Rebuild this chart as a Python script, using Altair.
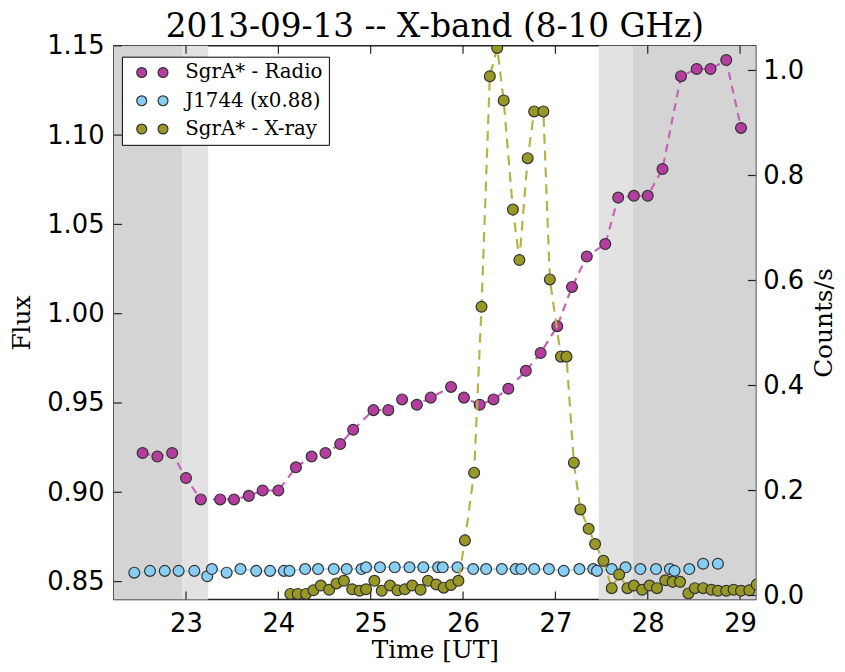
import altair as alt
import pandas as pd

# ---------------- data ----------------
radio_t = [22.53, 22.69, 22.85, 23.00, 23.16, 23.37, 23.52, 23.68, 23.83, 24.00,
           24.19, 24.36, 24.51, 24.67, 24.81, 25.03, 25.19, 25.34, 25.50, 25.65,
           25.87, 26.01, 26.18, 26.33, 26.49, 26.68, 26.84, 27.02, 27.18, 27.34,
           27.54, 27.68, 27.85, 28.00, 28.16, 28.36, 28.53, 28.68, 28.85, 29.01]
radio_flux = [0.922, 0.920, 0.922, 0.908, 0.896, 0.896, 0.896, 0.898, 0.901, 0.901,
              0.914, 0.920, 0.922, 0.927, 0.935, 0.946, 0.946, 0.952, 0.949, 0.953,
              0.959, 0.953, 0.949, 0.952, 0.958, 0.968, 0.978, 0.993, 1.015, 1.032,
              1.039, 1.065, 1.066, 1.066, 1.081, 1.133, 1.137, 1.137, 1.142, 1.104]

j1744_t = [22.44, 22.61, 22.77, 22.92, 23.09, 23.23, 23.28, 23.44, 23.59, 23.76,
           23.91, 24.06, 24.12, 24.29, 24.43, 24.60, 24.74, 24.90, 24.95, 25.10,
           25.26, 25.42, 25.57, 25.73, 25.78, 25.94, 26.11, 26.25, 26.42, 26.57,
           26.63, 26.77, 26.93, 27.09, 27.26, 27.41, 27.45, 27.61, 27.76, 27.92,
           28.09, 28.24, 28.29, 28.45, 28.60, 28.76]
j1744_flux = [0.855, 0.856, 0.856, 0.856, 0.856, 0.853, 0.857, 0.855, 0.857, 0.856,
              0.856, 0.856, 0.856, 0.857, 0.857, 0.857, 0.857, 0.857, 0.858, 0.858,
              0.858, 0.858, 0.858, 0.858, 0.858, 0.858, 0.857, 0.857, 0.857, 0.857,
              0.857, 0.857, 0.857, 0.856, 0.857, 0.857, 0.856, 0.857, 0.858, 0.857,
              0.857, 0.857, 0.856, 0.857, 0.860, 0.860]

xray_t = [24.13, 24.21, 24.30, 24.38, 24.46, 24.55, 24.63, 24.71, 24.80, 24.88,
          24.95, 25.04, 25.12, 25.21, 25.29, 25.37, 25.45, 25.54, 25.62, 25.71,
          25.79, 25.87, 25.95, 26.02, 26.12, 26.20, 26.29, 26.37, 26.44, 26.54,
          26.61, 26.70, 26.77, 26.87, 26.94, 27.06, 27.12, 27.20, 27.27, 27.36,
          27.43, 27.52, 27.61, 27.69, 27.78, 27.85, 27.94, 28.02, 28.10, 28.19,
          28.27, 28.35, 28.44, 28.51, 28.60, 28.69, 28.76, 28.85, 28.93, 29.01,
          29.10, 29.18]
xray_counts = [0.003, 0.003, 0.003, 0.010, 0.019, 0.011, 0.023, 0.028, 0.012, 0.009,
               0.012, 0.028, 0.009, 0.019, 0.010, 0.012, 0.019, 0.011, 0.028, 0.021,
               0.015, 0.020, 0.028, 0.105, 0.234, 0.550, 0.989, 1.043, 0.943, 0.735,
               0.639, 0.833, 0.922, 0.922, 0.602, 0.455, 0.455, 0.253, 0.164, 0.127,
               0.098, 0.066, 0.014, 0.040, 0.014, 0.019, 0.011, 0.019, 0.014, 0.029,
               0.026, 0.026, 0.004, 0.014, 0.014, 0.011, 0.009, 0.009, 0.011, 0.009,
               0.010, 0.021]

shade_start = [22.22, 22.96, 27.47, 27.84]
shade_end = [22.96, 23.24, 27.84, 29.17]
shade_tone = ["dark", "light", "light", "dark"]

x_ticks = [23, 24, 25, 26, 27, 28, 29]
flux_ticks = [0.85, 0.90, 0.95, 1.00, 1.05, 1.10, 1.15]
count_ticks = [0.0, 0.2, 0.4, 0.6, 0.8, 1.0]

series_names = ["SgrA* - Radio", "J1744 (x0.88)", "SgrA* - X-ray"]
series_fill = ["#b43ea0", "#88cdf2", "#989826"]

# ---------------- layout / style ----------------
W, H = 648, 559
X_DOM = [22.22, 29.17]
FLUX_DOM = [0.84, 1.15]
CNT_DOM = [-0.0075, 1.047]
TICK = 8
SERIF = "DejaVu Serif"
SANS = "DejaVu Sans"

radio_df = pd.DataFrame({"t": radio_t, "flux": radio_flux, "series": series_names[0]})
j_df = pd.DataFrame({"t": j1744_t, "flux": j1744_flux, "series": series_names[1]})
x_df = pd.DataFrame({"t": xray_t, "counts": xray_counts, "series": series_names[2]})
shade_df = pd.DataFrame({"t": shade_start, "t2": shade_end, "tone": shade_tone})
xt_df = pd.DataFrame({"t": x_ticks})
ft_df = pd.DataFrame({"flux": flux_ticks})
ct_df = pd.DataFrame({"counts": count_ticks})

x_scale = alt.Scale(domain=X_DOM, nice=False, zero=False)
flux_scale = alt.Scale(domain=FLUX_DOM, nice=False, zero=False)
cnt_scale = alt.Scale(domain=CNT_DOM, nice=False, zero=False)

x_axis = alt.Axis(values=x_ticks, format="d", ticks=False, domain=False, grid=False,
                  labelFont=SANS, labelFontSize=26, labelColor="black", labelPadding=11,
                  title="Time [UT]", titleFont=SERIF, titleFontSize=25,
                  titleFontWeight="normal", titleColor="black", titlePadding=2)
flux_axis = alt.Axis(values=flux_ticks, format=".2f", ticks=False, domain=False, grid=False,
                     labelFont=SANS, labelFontSize=26, labelColor="black", labelPadding=10,
                     title="Flux", titleFont=SERIF, titleFontSize=25,
                     titleFontWeight="normal", titleColor="black", titlePadding=12)
cnt_axis = alt.Axis(values=count_ticks, format=".1f", ticks=False, domain=False, grid=False,
                    orient="right",
                    labelFont=SANS, labelFontSize=26, labelColor="black", labelPadding=7,
                    title="Counts/s", titleFont=SERIF, titleFontSize=25, titleAngle=270,
                    titleBaseline="top",
                    titleFontWeight="normal", titleColor="black", titlePadding=8)

X = alt.X("t:Q", scale=x_scale, axis=x_axis)
YF = alt.Y("flux:Q", scale=flux_scale, axis=flux_axis)
YC = alt.Y("counts:Q", scale=cnt_scale, axis=cnt_axis)

two_dots = ("M-1,0A1,1,0,1,0,1,0A1,1,0,1,0,-1,0Z "
            "M3.3,0A1,1,0,1,0,5.3,0A1,1,0,1,0,3.3,0Z")

color = alt.Color(
    "series:N",
    scale=alt.Scale(domain=series_names, range=series_fill),
    legend=alt.Legend(title=None, orient="none", legendX=8, legendY=11, padding=6,
                      strokeColor="black", fillColor="white", cornerRadius=0,
                      labelFont=SERIF, labelFontSize=20, labelColor="black",
                      symbolType=two_dots, symbolSize=100, symbolStrokeColor="#333",
                      symbolStrokeWidth=1.2, symbolOpacity=1, symbolOffset=4,
                      labelOffset=34, rowPadding=8.5),
)

shade = alt.Chart(shade_df).mark_rect().encode(
    x=X, x2="t2:Q",
    fill=alt.Fill("tone:N", scale=alt.Scale(domain=["dark", "light"],
                                           range=["#d4d4d4", "#e2e2e2"]), legend=None),
)

radio_line = alt.Chart(radio_df).mark_line(
    color="#c862b8", strokeWidth=2.2, strokeDash=[8, 6], clip=True).encode(x=X, y=YF)
j_line = alt.Chart(j_df).mark_line(
    color="#9fd6f2", strokeWidth=1.5, clip=True).encode(x=X, y=YF)

left_pts = alt.Chart(pd.concat([radio_df, j_df])).mark_circle(
    size=120, opacity=1, stroke="#333", strokeWidth=1.2, clip=True).encode(
    x=X, y=YF, color=color, detail="series:N")

xt_bottom = alt.Chart(xt_df).mark_rule(color="#222", strokeWidth=1.2).encode(
    x=X, y=alt.value(H), y2=alt.value(H - TICK))
xt_top = alt.Chart(xt_df).mark_rule(color="#222", strokeWidth=1.2).encode(
    x=X, y=alt.value(0), y2=alt.value(TICK))
ft_rules = alt.Chart(ft_df).mark_rule(color="#222", strokeWidth=1.2).encode(
    y=YF, x=alt.value(0), x2=alt.value(TICK))

xray_line = alt.Chart(x_df).mark_line(
    color="#b4b444", strokeWidth=2.2, strokeDash=[10, 7], clip=True).encode(x=X, y=YC)
xray_pts = alt.Chart(x_df).mark_circle(
    size=120, opacity=1, stroke="#333", strokeWidth=1.2, clip=True).encode(
    x=X, y=YC, color=color)
ct_rules = alt.Chart(ct_df).mark_rule(color="#222", strokeWidth=1.2).encode(
    y=YC, x=alt.value(W - TICK), x2=alt.value(W))

left = alt.layer(shade, radio_line, j_line, left_pts, xt_bottom, xt_top, ft_rules)
right = alt.layer(xray_line, xray_pts, ct_rules)

chart = alt.layer(left, right).resolve_scale(y="independent").properties(
    width=W, height=H,
    title=alt.TitleParams("2013-09-13 -- X-band (8-10 GHz)", font=SERIF, fontSize=33,
                          fontWeight="normal", color="black", offset=-11,
                          frame="group"),
    autosize=alt.AutoSizeParams(type="none"),
    padding={"left": 107, "top": 35, "right": 82, "bottom": 62},
).configure_view(stroke="#222", strokeWidth=1.5)

chart.save("out.html", embed_options={"renderer": "svg", "actions": False})
